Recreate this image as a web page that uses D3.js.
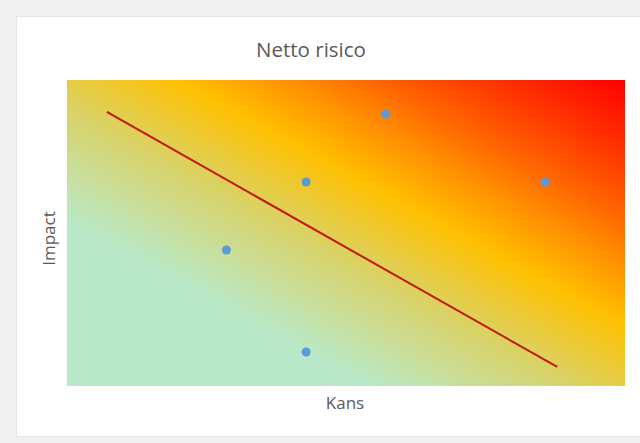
<!DOCTYPE html>
<html>
<head>
<meta charset="utf-8">
<script src="https://cdn.jsdelivr.net/npm/d3@7"></script>
<style>
  html, body { margin: 0; padding: 0; background: #f1f1f1; }
  svg { display: block; }
</style>
</head>
<body>
<svg id="chart" width="640" height="443"></svg>
<script>
// Risk points: Kans (likelihood) and Impact
const kans = [2, 3, 3, 4, 6];
const impact = [2, 3, 0.5, 4, 3];

// Dividing line between acceptable and unacceptable risk
const lineKans = [0.5, 6.15];
const lineImpact = [4.03, 0.28];

// Axis ranges
const kansDomain = [0, 7];
const impactDomain = [0, 4.5];

// Background heat-map colour stops (offset, colour)
const stopOffsets = [0, 0.27, 0.45, 0.6, 0.7, 0.78, 0.88, 1];
const stopColors = ["#b9e9c8", "#b9e9c8", "#d8d36a", "#ffc000", "#ff9000", "#ff6400", "#ff3400", "#ff0000"];

const svg = d3.select("#chart");
const W = 640, H = 443;
const plot = { left: 67, top: 80, right: 625, bottom: 386 };

// page + card
svg.append("rect").attr("width", W).attr("height", H).attr("fill", "#f1f1f1");
svg.append("rect")
  .attr("x", 16.5).attr("y", 16.5).attr("width", 640).attr("height", 420)
  .attr("fill", "#ffffff").attr("stroke", "#e4e4e4").attr("stroke-width", 1);

const x = d3.scaleLinear().domain(kansDomain).range([plot.left, plot.right]);
const y = d3.scaleLinear().domain(impactDomain).range([plot.bottom, plot.top]);

const defs = svg.append("defs");
const grad = defs.append("linearGradient")
  .attr("id", "heat")
  .attr("x1", 0).attr("y1", 1).attr("x2", 1).attr("y2", 0);
grad.selectAll("stop")
  .data(stopOffsets)
  .join("stop")
  .attr("offset", d => d)
  .attr("stop-color", (d, i) => stopColors[i]);

svg.append("rect")
  .attr("x", x(kansDomain[0])).attr("y", y(impactDomain[1]))
  .attr("width", x(kansDomain[1]) - x(kansDomain[0]))
  .attr("height", y(impactDomain[0]) - y(impactDomain[1]))
  .attr("fill", "url(#heat)");

// axes without ticks or labels
const xAxis = d3.axisBottom(x).tickValues([]).tickSize(0);
const yAxis = d3.axisLeft(y).tickValues([]).tickSize(0);
svg.append("g").attr("transform", `translate(0,${plot.bottom})`).call(xAxis)
  .select(".domain").attr("stroke", "none");
svg.append("g").attr("transform", `translate(${plot.left},0)`).call(yAxis)
  .select(".domain").attr("stroke", "none");

// dividing line
svg.append("line")
  .attr("x1", x(lineKans[0])).attr("y1", y(lineImpact[0]))
  .attr("x2", x(lineKans[1])).attr("y2", y(lineImpact[1]))
  .attr("stroke", "#c0180c").attr("stroke-width", 2);

// risk points
svg.append("g").selectAll("circle")
  .data(kans.map((k, i) => ({ k, v: impact[i] })))
  .join("circle")
  .attr("cx", d => x(d.k))
  .attr("cy", d => y(d.v))
  .attr("r", 4.5)
  .attr("fill", "#5b9bd5");

const font = "'Open Sans', 'Noto Sans', sans-serif";
svg.append("text")
  .attr("x", 311).attr("y", 57)
  .attr("text-anchor", "middle")
  .attr("font-family", font).attr("font-size", 20.5)
  .attr("fill", "#595959")
  .text("Netto risico");

svg.append("text")
  .attr("x", 345).attr("y", 409)
  .attr("text-anchor", "middle")
  .attr("font-family", font).attr("font-size", 17)
  .attr("fill", "#595959")
  .text("Kans");

svg.append("text")
  .attr("transform", "translate(55,238.5) rotate(-90)")
  .attr("text-anchor", "middle")
  .attr("font-family", font).attr("font-size", 17)
  .attr("fill", "#595959")
  .text("Impact");
</script>
</body>
</html>
